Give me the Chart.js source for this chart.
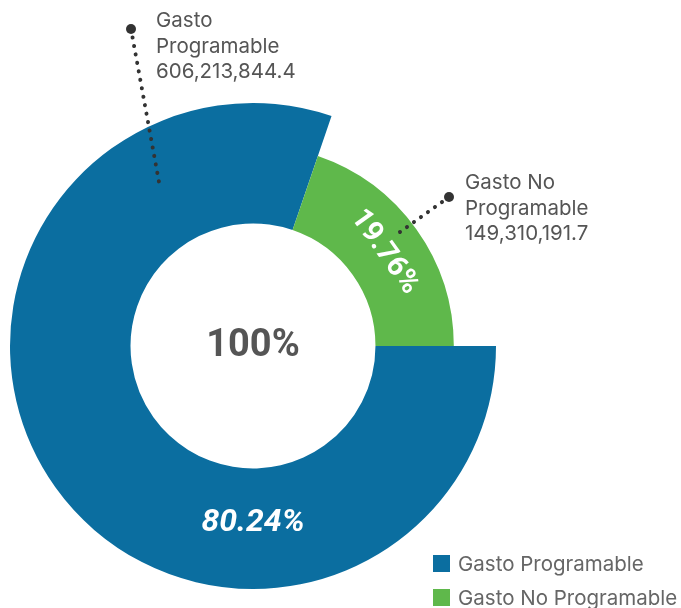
<!DOCTYPE html>
<html lang="es">
<head>
    <meta charset="UTF-8">
    <title>Gasto Programable / No Programable</title>
    <style>
        body {
            margin: 0;
            background: #ffffff;
            font-family: Inter, Roboto, Arial, sans-serif;
        }

        .wrap {
            position: relative;
            width: 681px;
            height: 608px;
        }

        .legend {
            position: absolute;
            left: 433px;
            top: 546px;
            color: #666666;
            font-size: 20.5px;
        }

        .legend div {
            display: flex;
            align-items: center;
            height: 34px;
            white-space: nowrap;
        }

        .legend .box {
            width: 17px;
            height: 17px;
            margin-right: 8px;
        }
    </style>
</head>
<body>
    <div class="wrap">
        <canvas id="gasto-chart" width="681" height="608"></canvas>
        <div class="legend" id="legend"></div>
    </div>

    <script src="https://cdn.jsdelivr.net/npm/chart.js"></script>
    <script>
        const categories = ['Gasto Programable', 'Gasto No Programable'];
        const amounts = [606213844.4, 149310191.7];
        const colors = ['#0b6ea0', '#5fb84b'];

        // green ring is thinner than the blue one
        const ringScale = [1, 0.65];

        const total = amounts.reduce((a, b) => a + b, 0);
        const pct = v => (v / total * 100).toFixed(2) + '%';
        const fmt = v => v.toLocaleString('en-US', { minimumFractionDigits: 1, maximumFractionDigits: 1 });

        function dotted(ctx, x1, y1, x2, y2) {
            ctx.save();
            ctx.strokeStyle = '#333333';
            ctx.lineWidth = 4;
            ctx.lineCap = 'round';
            ctx.setLineDash([0.1, 8.5]);
            ctx.beginPath();
            ctx.moveTo(x1, y1);
            ctx.lineTo(x2, y2);
            ctx.stroke();
            ctx.restore();
        }

        function callout(ctx, i, cx, cy, dot, end, tx, ty) {
            dotted(ctx, cx + dot[0], cy + dot[1], cx + end[0], cy + end[1]);
            ctx.fillStyle = '#333333';
            ctx.beginPath();
            ctx.arc(cx + dot[0], cy + dot[1], 5, 0, Math.PI * 2);
            ctx.fill();

            const name = categories[i];
            const cut = name.lastIndexOf(' ');
            const lines = [name.slice(0, cut), name.slice(cut + 1), fmt(amounts[i])];
            ctx.fillStyle = '#555555';
            ctx.font = '20.5px Inter';
            ctx.textAlign = 'left';
            ctx.textBaseline = 'middle';
            lines.forEach((t, k) => ctx.fillText(t, cx + tx, cy + ty + k * 25.5));
        }

        const donutLabels = {
            id: 'donutLabels',
            afterDatasetsUpdate(chart) {
                const meta = chart.getDatasetMeta(0);
                meta.data.forEach((arc, i) => {
                    arc.outerRadius = arc.innerRadius + (arc.outerRadius - arc.innerRadius) * ringScale[i];
                });
            },
            afterDraw(chart) {
                const ctx = chart.ctx;
                const meta = chart.getDatasetMeta(0);
                const blue = meta.data[0], green = meta.data[1];
                const cx = blue.x, cy = blue.y;

                ctx.save();
                // center total
                ctx.fillStyle = '#555555';
                ctx.font = 'bold 38px Roboto';
                ctx.textAlign = 'center';
                ctx.textBaseline = 'middle';
                ctx.fillText('100%', cx, cy);

                // blue share, under the hole
                ctx.fillStyle = '#ffffff';
                ctx.font = 'italic bold 32px Roboto';
                ctx.fillText(pct(amounts[0]), cx, cy + (blue.innerRadius + blue.outerRadius) / 2 - 6);

                // green share, along the arc
                const mid = (green.startAngle + green.endAngle) / 2;
                const r = (green.innerRadius + green.outerRadius) / 2;
                ctx.save();
                ctx.translate(cx + Math.cos(mid) * r, cy + Math.sin(mid) * r);
                ctx.rotate(mid + Math.PI / 2);
                ctx.font = 'bold 29px Roboto';
                ctx.fillText(pct(amounts[1]), 0, 0);
                ctx.restore();

                callout(ctx, 0, cx, cy, [-122, -317], [-94, -164], -97, -325);
                callout(ctx, 1, cx, cy, [196, -149], [147, -114], 212, -163);
                ctx.restore();
            }
        };

        new Chart(document.getElementById('gasto-chart').getContext('2d'), {
            type: 'doughnut',
            data: {
                labels: categories,
                datasets: [{
                    data: amounts,
                    backgroundColor: colors,
                    borderWidth: 0,
                    hoverOffset: 0,
                    offset: 0
                }]
            },
            options: {
                responsive: false,
                animation: false,
                events: [],
                rotation: 90,
                cutout: '50.4%',
                layout: { padding: { left: 10, top: 103, right: 185, bottom: 19 } },
                plugins: {
                    legend: { display: false },
                    tooltip: { enabled: false }
                }
            },
            plugins: [donutLabels]
        });

        const legend = document.getElementById('legend');
        categories.forEach((c, i) => {
            const row = document.createElement('div');
            row.innerHTML = '<span class="box" style="background:' + colors[i] + '"></span>' + c;
            legend.appendChild(row);
        });
    </script>
</body>
</html>
